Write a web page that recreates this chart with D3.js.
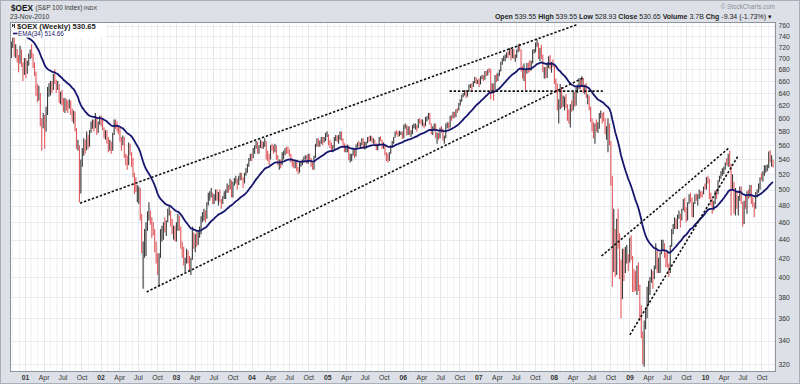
<!DOCTYPE html>
<html>
<head>
<meta charset="utf-8">
<script src="https://cdn.jsdelivr.net/npm/d3@7/dist/d3.min.js"></script>
<style>
  body { margin: 0; background: #fff; }
  svg { display: block; font-family: Arial, "Liberation Sans", sans-serif; }
</style>
</head>
<body>
<script>
// weekly bars of $OEX, one entry per week (week ending Friday), first week below
const firstWeek = "2000-10-27";

const weekHigh = [
  730,745,738,725,716,705,722,715,692,700, // 2000
  700,695,708,715, 725,708,692,676, 655,652,640,600,608, 605,618,650,656, 660,660,672,680, 662,660,655,642,645, 632,632,630,628, 630,628,615,612,610, 585,568,560,540, 556,570,568,580, 575,582,595,598,598, 608,602,595,604, // 2001
  604,600,586,582, 582,572,568,565, 578,598,598,595,588, 585,572,574,572, 548,546,564,562,550, 542,522,516,506, 504,502,470,438, 452,460,473,484,474, 466,460,452,438, 425,425,452,456, 460,466,462,476,480, 474,464,456,456, // 2002
  460,470,468,455,438, 432,420,430,428, 422,420,455,448, 446,448,450,455, 467,472,476,474,484, 496,498,502,496, 494,500,500,497, 500,488,492,498,500, 508,506,514,512, 510,515,518,514,518, 522,522,516,522, 528,534,542,548, // 2003
  548,556,560,566,565, 560,568,566,565, 570,566,552,548, 560,562,560,562,560, 546,540,540,550, 552,556,558,558, 554,548,542,538,538, 538,530,536,537, 540,544,546,546, 548,548,542,536,545, 562,570,570,567, 572,572,572,578,580, // 2004
  576,568,564,560, 572,575,574,575, 580,580,570,563, 560,561,560,548,548, 556,556,561,564, 566,564,570,570, 565,565,572,573,574, 573,570,568,563, 562,572,573,568,564, 562,550,548,550, 560,566,572,580, 582,580,581,580,580, // 2005
  590,592,590,588, 588,582,590,592, 592,590,599,600,598, 598,593,602,603, 608,608,592,588, 592,592,578,578,586, 588,584,574,592, 594,594,604,605, 610,610,614,616,624, 630,637,640,645, 645,644,654,655, 656,660,667,666,662, // 2006
  664,668,670,670, 677,677,680,682, 680,656,656,670,672, 674,679,693,700, 704,706,710,712, 718,718,716,716,706, 715,725,726,715, 686,690,680,691,692, 696,695,715,716, 728,734,728,718, 724,706,684,684,692, 703,705,693,697, // 2007
  688,664,656,630, 655,650,636,634,638, 622,614,622,628, 642,642,650,654, 665,662,668,665,654, 656,638,636,618, 600,594,592,598, 594,608,612,608,610, 600,588,600,592, 566,518,476,452,464, 476,447,418,430, 430,432,434,424, // 2008
  442,445,422,408,406, 412,415,392,372, 348,358,370,390, 396,400,408,406, 412,436,428,420,426, 440,440,436,426, 426,414,434,452,458, 466,464,469,474, 470,476,488,490, 478,484,494,496,490, 484,494,495,494, 500,498,498,504, // 2009
  508, 516,518,514,496, 488,486,499,500, 512,518,524,528, 530,536,542,548,552, 534,520,510,502, 498,492,504,504, 484,486,492,498,500, 506,506,490,484, 497,500,508,516, 522,524,532,532,533, 551,553,546,539.55 // 2010
];

const weekLow = [
  700,718,702,700,692,675,690,684,660,670, // 2000
  665,672,686,698, 700,682,668,635, 625,628,588,552,585, 555,580,605,634, 636,640,645,655, 640,645,624,622,620, 610,608,612,608, 615,605,595,592,580, 555,552,484,495, 530,545,548,553, 555,558,578,584,580, 585,575,578,590, // 2001
  588,582,570,568, 562,550,552,548, 552,575,584,580,576, 565,552,560,542, 532,526,532,546,530, 516,494,497,484, 482,462,425,388, 420,422,450,462,457, 442,445,426,414, 402,390,420,438, 440,448,444,460,468, 455,446,440,438, // 2002
  438,450,450,430,420, 412,405,414,414, 406,402,418,430, 426,432,434,442, 446,460,462,460,464, 480,486,490,482, 482,486,486,480, 484,476,482,488,488, 496,496,500,490, 490,505,508,500,506, 512,512,502,508, 518,522,530,538, // 2003
  538,542,548,555,548, 548,556,555,555, 558,540,538,532, 540,552,548,550,540, 532,526,528,532, 540,546,548,548, 544,536,530,528,528, 524,520,522,530, 532,536,540,534, 534,538,530,526,526, 542,558,558,558, 562,560,564,566,572, // 2004
  560,556,552,550, 555,566,565,562, 568,566,560,550, 550,550,539,536,538, 545,542,544,558, 558,556,560,555, 554,555,563,565,566, 564,562,560,553, 553,560,566,555,555, 546,538,536,538, 548,556,562,571, 575,572,573,575,569, // 2005
  570,584,574,575, 575,572,576,585, 583,580,585,592,590, 588,585,588,595, 598,590,576,575, 582,570,562,568,570, 578,567,562,570, 585,584,586,596, 600,600,602,608,612, 620,626,633,636, 632,634,642,648, 644,650,656,655,655, // 2006
  650,654,663,660, 662,668,669,674, 630,642,628,645,658, 660,668,676,688, 694,694,700,700, 705,696,700,698,693, 700,710,712,676, 664,660,645,672,674, 676,678,690,708, 710,720,698,694, 698,675,664,664,665, 682,680,674,684, // 2007
  655,640,612,592, 614,616,618,612,616, 596,592,586,610, 612,618,620,640, 646,646,650,640,638, 632,622,612,594, 580,570,562,580, 578,584,600,592,595, 576,568,550,560, 505,390,405,400,402, 430,398,360,378, 396,404,414,406, // 2008
  415,418,385,385,386, 382,386,358,342, 320,318,350,360, 372,382,394,388, 398,408,404,404,404, 424,428,420,410, 410,400,404,432,446, 452,452,452,464, 454,462,474,472, 460,462,482,484,466, 466,482,486,480, 488,490,490,494, // 2009
  500, 500,508,488,480, 470,474,482,488, 494,510,514,518, 520,526,532,530,530, 468,500,470,468, 476,468,486,482, 455,458,476,470,488, 490,482,478,466, 476,490,496,500, 512,510,518,522,524, 528,536,530,528.93 // 2010
];

const weekClose = [
  722,738,710,714,700,685,715,690,672,688, // 2000
  675,688,702,708, 706,685,675,645, 640,640,592,590,600, 582,612,642,648, 656,645,668,660, 650,652,628,632,630, 612,627,622,620, 625,612,597,610,583, 558,560,496,536, 552,564,555,571, 562,580,590,596,588, 603,580,591,600, // 2001
  598,585,574,577, 570,556,562,555, 576,594,593,584,583, 569,562,570,543, 542,532,560,548,540, 520,510,500,500, 500,466,428,430, 436,458,468,473,462, 452,450,428,418, 405,423,447,453, 455,452,460,470,473, 461,450,453,442, // 2002
  456,465,452,432,430, 415,418,426,421, 416,418,450,433, 441,436,448,450, 465,466,473,466,481, 492,492,495,485, 490,496,492,495, 486,484,490,492,498, 504,502,511,492, 508,512,512,506,516, 517,515,508,520, 525,532,540,545, // 2003
  543,550,558,560,554, 559,562,560,561, 566,548,543,542, 558,557,555,558,541, 536,536,534,547, 548,554,553,551, 546,539,533,532,535, 526,524,534,536, 538,541,544,534, 545,540,532,528,543, 560,568,560,565, 568,566,569,576,576, // 2004
  563,562,553,556, 571,572,569,573, 578,568,562,553, 554,558,540,545,546, 553,544,560,563, 560,561,568,556, 563,563,570,569,571, 566,567,562,555, 560,571,568,557,562, 548,544,540,549, 558,565,571,579, 578,575,578,578,570, // 2005
  587,588,575,585, 577,578,588,588, 588,585,597,595,592, 592,589,599,600, 606,591,580,586, 590,574,574,572,584, 582,569,571,590, 592,586,603,600, 608,603,613,611,622, 628,636,638,642, 635,642,652,652, 650,656,665,657,660, // 2006
  656,666,667,663, 675,670,678,676, 646,653,645,669,662, 672,677,691,697, 701,701,709,706, 716,702,714,700,700, 713,723,715,679, 668,677,673,689,687, 678,692,711,712, 726,727,700,715, 703,677,679,671,690, 701,683,691,688, // 2007
  657,652,616,620, 651,620,628,630,618, 600,598,620,613, 640,620,648,652, 660,648,664,641,652, 634,634,615,596, 588,578,588,586, 588,605,606,603,598, 579,584,585,566, 514,423,443,413,456, 438,412,377,428, 418,420,424,416, // 2008
  440,420,402,393,390, 410,390,362,345, 322,356,360,380, 392,398,404,402, 406,428,408,410,424, 432,434,424,422, 412,404,432,450,454, 462,460,468,470, 462,474,486,474, 464,482,490,487,468, 482,492,490,490, 496,495,494,503, // 2009
  502, 515,510,490,482, 479,483,498,496, 511,516,521,523, 528,535,534,546,532, 498,509,488,489, 478,490,501,483, 460,484,478,495,494, 503,485,481,478, 496,498,505,515, 514,522,526,529,529, 549,538,539.99,530.65 // 2010
];

// EMA(34) value carried in from the weeks before the first bar
const emaSeed = 780;
const emaPeriod = 34;

const lastOpen = 539.55;
const lastVolume = "3.7B";
const emaLabel = "EMA(34) 514.66";

const yTicks = [320,340,360,380,400,420,440,460,480,500,520,540,560,580,600,620,640,660,680,700,720,740,760];

// hand drawn trend lines: [date, price] -> [date, price]
const trendLines = [
  [["2001-09-24", 483], ["2008-04-22", 762]],
  [["2002-08-12", 385], ["2008-05-21", 665]],
  [["2006-08-15", 643], ["2008-08-25", 643]],
  [["2008-08-19", 422], ["2010-04-30", 557]],
  [["2009-01-03", 345], ["2010-06-08", 544]]
];

// ---------------------------------------------------------------
var W = 800, H = 384;
var plot = { left: 10, right: 776, top: 22, bottom: 372 };
var parseDay = d3.timeParse("%Y-%m-%d");

var start = parseDay(firstWeek);
var weeks = weekClose.map(function (c, i) {
  return { date: d3.timeFriday.offset(start, i), high: weekHigh[i], low: weekLow[i], close: c };
});

// ema over the closes
var ema = emaSeed;
weeks.forEach(function (w) {
  ema = ema + (w.close - ema) * 2 / (emaPeriod + 1);
  w.ema = ema;
});

var x = d3.scaleTime()
  .domain([new Date(2001, 0, 1), new Date(2010, 0, 1)])
  .range([25, 705]);

var y = d3.scaleLog()
  .domain([320, 760])
  .range([364.3, 25.7]);

var svg = d3.select("body").append("svg")
  .attr("width", W)
  .attr("height", H);

svg.append("rect")
  .attr("width", W).attr("height", H)
  .attr("fill", "#dde1e7");

svg.append("rect")
  .attr("x", 0.5).attr("y", 0.5).attr("width", W - 1).attr("height", H - 1)
  .attr("fill", "none").attr("stroke", "#a9afb8");

svg.append("defs").append("clipPath").attr("id", "clip")
  .append("rect")
  .attr("x", plot.left).attr("y", plot.top)
  .attr("width", plot.right - plot.left).attr("height", plot.bottom - plot.top);

svg.append("rect")
  .attr("x", plot.left).attr("y", plot.top)
  .attr("width", plot.right - plot.left).attr("height", plot.bottom - plot.top)
  .attr("fill", "#fff");

// grid
var grid = svg.append("g").attr("clip-path", "url(#clip)");
var months = d3.timeMonth.range(x.invert(plot.left), x.invert(plot.right));
grid.selectAll("line.m").data(months).enter().append("line")
  .attr("x1", function (d) { return Math.round(x(d)) + 0.5; })
  .attr("x2", function (d) { return Math.round(x(d)) + 0.5; })
  .attr("y1", plot.top).attr("y2", plot.bottom)
  .attr("stroke", function (d) { return d.getMonth() % 3 === 0 ? "#e4e7eb" : "#f2f3f5"; });

grid.selectAll("line.h").data(yTicks).enter().append("line")
  .attr("x1", plot.left).attr("x2", plot.right)
  .attr("y1", function (d) { return Math.round(y(d)) + 0.5; })
  .attr("y2", function (d) { return Math.round(y(d)) + 0.5; })
  .attr("stroke", "#e8eaee");

var chart = svg.append("g").attr("clip-path", "url(#clip)");

// price bars
chart.selectAll("line.bar").data(weeks).enter().append("line")
  .attr("x1", function (d) { return x(d.date); })
  .attr("x2", function (d) { return x(d.date); })
  .attr("y1", function (d) { return y(d.high); })
  .attr("y2", function (d) { return y(d.low); })
  .attr("stroke-width", 1.1)
  .attr("stroke", function (d, i) {
    if (i > 0 && d.close < weeks[i - 1].close) return "#e2575c";
    return "#3a3a3a";
  });

// ema line
var emaLine = d3.line()
  .x(function (d) { return x(d.date); })
  .y(function (d) { return y(d.ema); });

chart.append("path")
  .datum(weeks)
  .attr("d", emaLine)
  .attr("fill", "none")
  .attr("stroke", "#16166e")
  .attr("stroke-width", 1.8);

// trend lines
chart.selectAll("line.trend").data(trendLines).enter().append("line")
  .attr("x1", function (d) { return x(parseDay(d[0][0])); })
  .attr("y1", function (d) { return y(d[0][1]); })
  .attr("x2", function (d) { return x(parseDay(d[1][0])); })
  .attr("y2", function (d) { return y(d[1][1]); })
  .attr("stroke", "#111")
  .attr("stroke-width", 1.6)
  .attr("stroke-dasharray", "2.4,1.8");

// legend box
svg.append("rect")
  .attr("x", plot.left + 0.5).attr("y", plot.top + 0.5)
  .attr("width", 96).attr("height", 15)
  .attr("fill", "#fff");

svg.append("path")
  .attr("d", "M12.5,24 L12.5,27 M12.5,26 L15,24 M14.5,24 L14.5,28")
  .attr("stroke", "#333").attr("fill", "none").attr("stroke-width", 1);

var last = weeks[weeks.length - 1];
var prev = weeks[weeks.length - 2];

svg.append("text")
  .attr("x", 17).attr("y", 28.5)
  .attr("font-size", 7.6).attr("font-weight", "bold").attr("fill", "#222")
  .text("$OEX (Weekly) " + last.close.toFixed(2));

svg.append("line")
  .attr("x1", 13).attr("x2", 17.5).attr("y1", 33.5).attr("y2", 33.5)
  .attr("stroke", "#16166e").attr("stroke-width", 1.6);

svg.append("text")
  .attr("x", 18).attr("y", 36)
  .attr("font-size", 6.3).attr("fill", "#16166e")
  .text(emaLabel);

// plot frame
svg.append("rect")
  .attr("x", plot.left + 0.5).attr("y", plot.top + 0.5)
  .attr("width", plot.right - plot.left - 1).attr("height", plot.bottom - plot.top - 1)
  .attr("fill", "none").attr("stroke", "#8e949c");

// y axis labels on the right
var yAxis = d3.axisRight(y)
  .tickValues(yTicks)
  .tickFormat(d3.format("d"))
  .tickSize(0)
  .tickPadding(2.5);

var gy = svg.append("g")
  .attr("transform", "translate(" + plot.right + ",0)")
  .call(yAxis);
gy.select(".domain").remove();
gy.selectAll("text").attr("font-size", 6.8).attr("fill", "#333").attr("font-family", "Arial, sans-serif");

// x axis labels
var quarters = d3.timeMonth.every(3).range(x.invert(plot.left + 4), x.invert(plot.right));
var xAxis = d3.axisBottom(x)
  .tickValues(quarters)
  .tickFormat(function (d) { return d.getMonth() === 0 ? d3.timeFormat("%y")(d) : d3.timeFormat("%b")(d); })
  .tickSize(0)
  .tickPadding(3);

var gx = svg.append("g")
  .attr("transform", "translate(0," + plot.bottom + ")")
  .call(xAxis);
gx.select(".domain").remove();
gx.selectAll("text")
  .attr("font-size", 6.8).attr("fill", "#333").attr("font-family", "Arial, sans-serif")
  .attr("font-weight", function (d) { return d.getMonth() === 0 ? "bold" : "normal"; });

// header
svg.append("text")
  .attr("x", 11).attr("y", 10.5)
  .attr("font-size", 9.5).attr("font-weight", "bold").attr("fill", "#111")
  .attr("textLength", 22).attr("lengthAdjust", "spacingAndGlyphs")
  .text("$OEX");

svg.append("text")
  .attr("x", 35.5).attr("y", 10)
  .attr("font-size", 6.4).attr("fill", "#333")
  .text("(S&P 100 Index)")
  .append("tspan")
  .attr("font-size", 5.6)
  .text(" INDX");

svg.append("text")
  .attr("x", 10).attr("y", 18.5)
  .attr("font-size", 6.8).attr("fill", "#333")
  .text("23-Nov-2010");

svg.append("text")
  .attr("x", 775).attr("y", 8.5)
  .attr("text-anchor", "end")
  .attr("font-size", 6.3).attr("fill", "#8a8f96")
  .text("\u00a9 StockCharts.com");

var chg = last.close - prev.close;
var quote = [
  ["Open", lastOpen.toFixed(2)],
  ["High", last.high.toFixed(2)],
  ["Low", last.low.toFixed(2)],
  ["Close", last.close.toFixed(2)],
  ["Volume", lastVolume],
  ["Chg", chg.toFixed(2) + " (" + (chg / prev.close * 100).toFixed(2) + "%) \u25be"]
];

var qt = svg.append("text")
  .attr("x", 772).attr("y", 18.5)
  .attr("text-anchor", "end")
  .attr("font-size", 7).attr("fill", "#222");
quote.forEach(function (q, i) {
  qt.append("tspan").attr("font-weight", "bold").text((i ? " " : "") + q[0] + " ");
  qt.append("tspan").text(q[1]);
});
</script>
</body>
</html>
